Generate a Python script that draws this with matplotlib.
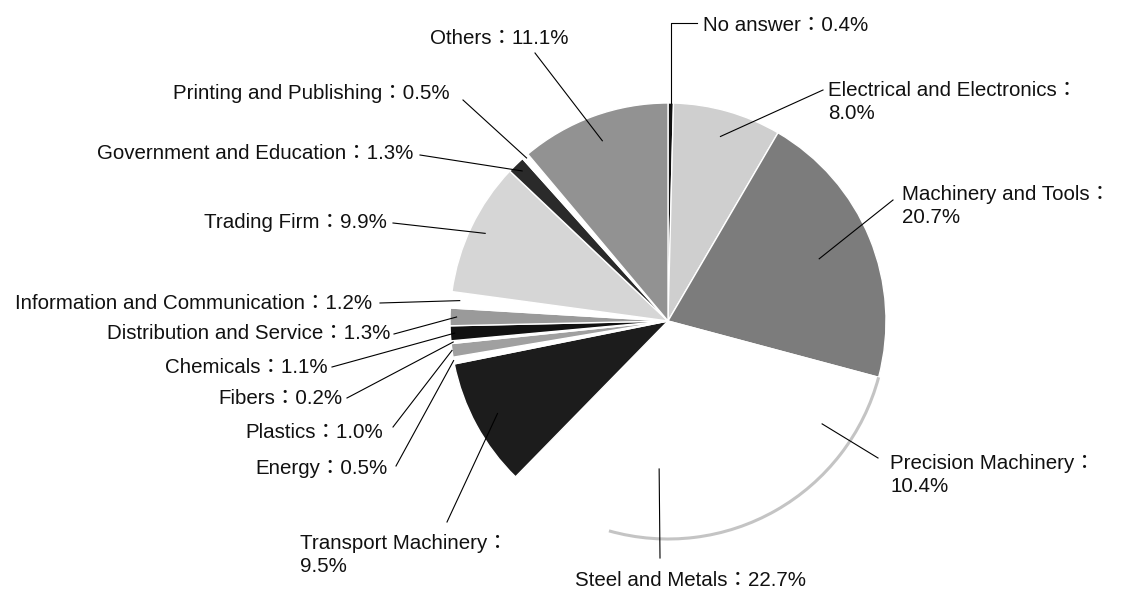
import numpy as np
import matplotlib
matplotlib.use("Agg")
import matplotlib.pyplot as plt
from matplotlib.patches import Arc

# Share of respondents by industry (clockwise from 12 o'clock)
industries = [
    "No answer", "Electrical and Electronics", "Machinery and Tools",
    "Precision Machinery", "Steel and Metals", "Transport Machinery",
    "Energy", "Plastics", "Fibers", "Chemicals", "Distribution and Service",
    "Information and Communication", "Trading Firm",
    "Government and Education", "Printing and Publishing", "Others",
]
shares = [0.4, 8.0, 20.7, 10.4, 22.7, 9.5, 0.5, 1.0, 0.2, 1.1, 1.3, 1.2,
          9.9, 1.3, 0.5, 11.1]
# labels that wrap the value onto a second line
two_line = ["Electrical and Electronics", "Machinery and Tools",
            "Precision Machinery", "Transport Machinery"]

colors = ["#111111", "#cfcfcf", "#7c7c7c", "#ffffff", "#ffffff", "#1c1c1c",
          "#ffffff", "#a0a0a0", "#ffffff", "#111111", "#9a9a9a", "#ffffff",
          "#d6d6d6", "#2a2a2a", "#ffffff", "#929292"]

# pie centre / radius in pixels, used to place labels
CX, CY, R = 668, 321, 218
W, H = 1133, 591

# (text x px, text y px, ha, leader outer x px, leader outer y px, inner radius)
layout = [
    (703, 25, "left", None, None, 1.0),
    (828, 102, "left", 823, 90, 0.88),
    (902, 206, "left", 893, 200, 0.75),
    (890, 475, "left", 878, 458, 0.85),
    (575, 580, "left", 660, 558, 0.68),
    (300, 555, "left", 447, 522, 0.89),
    (388, 468, "right", 396, 466, 1.0),
    (383, 432, "right", 393, 427, 1.0),
    (343, 398, "right", 347, 398, 0.99),
    (328, 367, "right", 332, 367, 0.98),
    (390, 333, "right", 394, 334, 0.97),
    (372, 303, "right", 380, 303, 0.96),
    (387, 222, "right", 393, 223, 0.93),
    (413, 153, "right", 420, 155, 0.96),
    (450, 93, "right", 463, 100, 0.99),
    (430, 38, "left", 535, 53, 0.88),
]


def px(x, y):
    return (x - CX) / R, (CY - y) / R


fig = plt.figure(figsize=(W / 100, H / 100), dpi=100)
ax = fig.add_axes([0, 0, 1, 1])

wedges, _ = ax.pie(shares, colors=colors, startangle=90, counterclock=False,
                   radius=1, wedgeprops=dict(edgecolor="white", linewidth=1.0))

ax.set_xlim(px(0, 0)[0], px(W, 0)[0])
ax.set_ylim(px(0, H)[1], px(0, 0)[1])
ax.set_aspect("equal")
ax.axis("off")

# faint grey rim along the white slices
prec, steel = wedges[3], wedges[4]
t1 = steel.theta1 + 0.35 * (steel.theta2 - steel.theta1)
ax.add_patch(Arc((0, 0), 2.0, 2.0, theta1=t1, theta2=prec.theta2,
                 color="#c4c4c4", lw=2.2))

font = ["Liberation Sans", "Noto Sans CJK JP"]
for name, val, w, (tx, ty, ha, ox, oy, rin) in zip(industries, shares, wedges, layout):
    sep = "\n" if name in two_line else ""
    label = f"{name}：{sep}{val:.1f}%"
    x, y = px(tx, ty)
    ax.text(x, y, label, ha=ha, va="center", fontsize=14.8, family=font,
            linespacing=1.22, color="#111111")
    mid = np.deg2rad((w.theta1 + w.theta2) / 2)
    ix, iy = rin * np.cos(mid), rin * np.sin(mid)
    if ox is None:
        # elbow leader for the thin slice at the top
        ex, ey = px(tx - 6, ty - 2)
        ax.plot([ix, ix, ex], [iy, ey, ey], color="black", lw=0.8)
    else:
        ex, ey = px(ox, oy)
        ax.plot([ix, ex], [iy, ey], color="black", lw=0.8)

plt.savefig("out.png", dpi=100)
